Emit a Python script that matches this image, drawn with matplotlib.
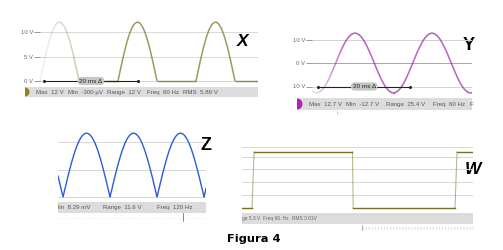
import numpy as np
import matplotlib.pyplot as plt
from matplotlib.collections import LineCollection
from matplotlib.colors import to_rgba
from matplotlib.patches import Rectangle, Wedge

# X: raddrizzatore a semionda
x_peak = 12.0
x_freq = 60
x_ticks = [10, 5, 0]
x_ticklabels = ["10 V", "5 V", "0 V"]
x_stats = ["Max  12 V", "Min  -300 µV", "Range  12 V", "Freq  60 Hz", "RMS  5.89 V"]

# Y: sinusoide
y_peak = 12.7
y_freq = 60
y_phase_ms = 5.14
y_ticks = [10, 0, -10]
y_ticklabels = ["10 V", "0 V", "10 V"]
y_stats = ["Max  12.7 V", "Min  -12.7 V", "Range  25.4 V", "Freq  60 Hz", "F"]

# Z: raddrizzatore a onda intera
z_peak = 11.6
z_freq = 60
z_phase_ms = 0.89
z_grid = [0, 5, 10]
z_stats = ["lin  8.29 mV", "Range  11.6 V", "Freq  120 Hz"]

# W: onda quadra
w_high = 5.3
w_edges_ms = [0.83, 9.16, 17.66]   # salita, discesa, salita
w_grid = [1.23, 2.45, 3.68, 4.81, 5.75]
w_stats = ["ge 5.3 V", "Freq 60. Hz", "RMS 3.01V"]

W_PX, H_PX = 503, 250
SANS = ["Liberation Sans", "DejaVu Sans"]

fig = plt.figure(figsize=(W_PX / 100, H_PX / 100), dpi=100)

# livello di sfondo in pixel per barre di stato e scritte
ov = fig.add_axes([0, 0, 1, 1])
ov.set_xlim(0, W_PX)
ov.set_ylim(H_PX, 0)
ov.axis("off")


def panel(x0, y0, x1, y1, xlim, ylim):
    ax = fig.add_axes([x0 / W_PX, 1 - y1 / H_PX, (x1 - x0) / W_PX, (y1 - y0) / H_PX])
    ax.set_xlim(xlim)
    ax.set_ylim(ylim)
    for s in ax.spines.values():
        s.set_visible(False)
    ax.set_xticks([])
    ax.set_yticks([])
    ax.patch.set_alpha(0)
    return ax


def fade_plot(ax, t, v, color, t_fade, a0=0.1):
    pts = np.column_stack([t, v]).reshape(-1, 1, 2)
    segs = np.concatenate([pts[:-1], pts[1:]], axis=1)
    alpha = np.clip(a0 + (1 - a0) * ((t[:-1] - t[0]) / t_fade) ** 1.5, a0, 1)
    lc = LineCollection(segs, colors=[to_rgba(color, a) for a in alpha], linewidths=1.0)
    ax.add_collection(lc)


def yticks(ax, ticks, labels):
    ax.set_yticks(ticks)
    ax.set_yticklabels(labels, family=SANS, fontsize=4.3, color="#666666")
    ax.tick_params(axis="y", length=4, width=0.6, color="#888888", pad=1)


def delta_bar(ax, t0, t1, y):
    ax.plot([t0, t1], [y, y], color="#222222", lw=0.8, zorder=4)
    ax.plot([t0, t1], [y, y], "o", color="#222222", ms=1.2, zorder=4)
    ax.text((t0 + t1) / 2, y, "20 ms Δ", family=SANS, fontsize=4.6, color="#222222",
            ha="center", va="center", zorder=5,
            bbox=dict(boxstyle="round,pad=0.25,rounding_size=0.6", fc="#c6c6c6", ec="none"))


def status_bar(x0, x1, y0, y1, items, xs, marker=None, size=4.4):
    bar = Rectangle((x0, y0), x1 - x0, y1 - y0, color="#dcdcdc", lw=0)
    ov.add_patch(bar)
    if marker:
        ov.add_patch(Wedge((x0, (y0 + y1) / 2), (y1 - y0) / 2 - 0.5, -90, 90, color=marker, lw=0))
    for s, x in zip(items, xs):
        txt = ov.text(x, (y0 + y1) / 2 + 0.3, s, family=SANS, fontsize=size, color="#555555",
                      ha="left", va="center")
        txt.set_clip_path(bar)


# ---------------- X ----------------
ax = panel(40, 15, 258, 84, (0, 218 * 1000 / x_freq / 78), ((81 - 84) / 4.9, (81 - 15) / 4.9))
for g in x_ticks:
    ax.axhline(g, color="#d2d2d2", lw=0.6, zorder=1)
yticks(ax, x_ticks, x_ticklabels)
t = np.linspace(0, ax.get_xlim()[1], 3000)
v = x_peak * np.clip(np.sin(2 * np.pi * x_freq * t / 1000), 0, None)
fade_plot(ax, t, v, "#787020", 16)
delta_bar(ax, 0.9, 20.9, 0)
status_bar(25, 258, 87, 97, x_stats, [36, 68, 107, 147, 183], marker="#8a8420")
ov.text(243, 42, "X", family=SANS, fontsize=12.5, fontweight="bold", fontstyle="italic",
        ha="center", va="center")

# ---------------- Y ----------------
ax = panel(312, 25, 472, 97, (0, 160 * 1000 / y_freq / 77), ((63 - 97) / 2.35, (63 - 25) / 2.35))
for g in y_ticks:
    ax.axhline(g, color="#a8a8a8" if g == 0 else "#d2d2d2", lw=0.7, zorder=1)
yticks(ax, y_ticks, y_ticklabels)
t = np.linspace(0, ax.get_xlim()[1], 3000)
v = y_peak * np.sin(2 * np.pi * y_freq * (t - y_phase_ms) / 1000)
fade_plot(ax, t, v, "#a020aa", 7, a0=0.15)
delta_bar(ax, 1.3, 21.3, -10)
status_bar(297, 472, 98, 110, y_stats, [309, 346, 386, 433, 470], marker="#b020c0")
ov.plot([337, 337], [111, 114], color="#c8c8c8", lw=0.6)
ov.text(469, 45, "Y", family=SANS, fontsize=13, fontweight="bold", ha="center", va="center")

# ---------------- Z ----------------
ax = panel(58, 125, 206, 200, (0, 148 * 1000 / z_freq / 2 / 47), ((197 - 200) / 5.5, (197 - 125) / 5.5))
for g in z_grid:
    ax.axhline(g, color="#d6d6d6", lw=0.7, zorder=1)
t = np.linspace(0, ax.get_xlim()[1], 3000)
v = z_peak * np.abs(np.sin(2 * np.pi * z_freq * (t - z_phase_ms) / 1000))
ax.plot(t, v, color="#2d5ad8", lw=1.0, zorder=3)
status_bar(58, 206, 202, 213, z_stats, [58, 103, 157])
ov.plot([58, 206], [218, 218], color="#dddddd", lw=0.6, ls=(0, (1, 3)))
ov.plot([183, 183], [213, 221], color="#777777", lw=0.6)
ov.text(206, 146, "Z", family=SANS, fontsize=13, fontweight="bold", ha="center", va="center")

# ---------------- W ----------------
ax = panel(242, 140, 473, 211, (0, 231 * 1000 / 60 / 201), ((208 - 211) / 10.6, (208 - 140) / 10.6))
for g in w_grid:
    ax.axhline(g, color="#d6d6d6", lw=0.7, zorder=1)
xmax = ax.get_xlim()[1]
flat_t = [[0, w_edges_ms[0]], [w_edges_ms[0] + 0.17, w_edges_ms[1]],
          [w_edges_ms[1] + 0.06, w_edges_ms[2]], [w_edges_ms[2] + 0.17, xmax]]
flat_v = [0, w_high, 0, w_high]
for tt, lvl in zip(flat_t, flat_v):
    ax.plot(tt, [lvl, lvl], color="#777022", lw=1.0, zorder=3)
for e, d, up in zip(w_edges_ms, [0.17, 0.06, 0.17], [True, False, True]):
    vv = [0, w_high] if up else [w_high, 0]
    ax.plot([e, e + d], vv, color="#777022", lw=0.8, alpha=0.5, zorder=3)
ov.add_patch(Rectangle((242, 213), 231, 11, color="#dcdcdc", lw=0))
for s, x in zip(w_stats, [242, 263, 292]):
    ov.text(x, 218.8, s, family=SANS, fontsize=3.5, color="#666666", ha="left", va="center")
ov.plot([362, 473], [227.5, 227.5], color="#e2e2e2", lw=2.2, ls=(0, (0.4, 0.6)))
ov.plot([362, 362], [225, 230], color="#999999", lw=0.5)
ov.text(473, 170, "W", family=SANS, fontsize=12.5, fontweight="bold", fontstyle="italic",
        ha="center", va="center")

ov.text(254, 239, "Figura 4", family="DejaVu Sans", fontsize=8.2, fontweight="bold",
        ha="center", va="center")

fig.savefig("out.png", dpi=100)
